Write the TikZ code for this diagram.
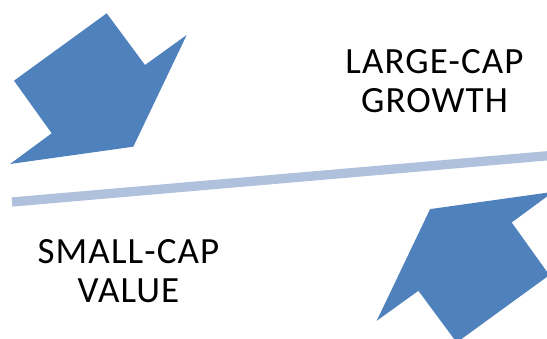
\documentclass[tikz,border=0pt]{standalone}
\usepackage{fontspec}
\newfontfamily\capfont{Carlito}[LetterSpace=3]
\definecolor{arrowblue}{HTML}{4F81BD}
\definecolor{lineblue}{HTML}{B0C1DD}
\tikzset{
  blockarrow/.style={fill=arrowblue},
  caplabel/.style={font=\capfont\fontsize{37}{39}\selectfont, align=center, inner sep=0pt}
}
\begin{document}
\begin{tikzpicture}[x=1pt,y=-1pt]
  \useasboundingbox (0,0) rectangle (547,339);
  \begin{scope}
  \clip (0,0) rectangle (547,339);
  % the two block arrows, the second one turned half round
  \foreach \turn in {0,180} {
    \fill[blockarrow, rotate around={\turn:(281.7,177.9)}]
      (106.7,13.3) -- (145,65) -- (186.7,35) -- (133.3,146.7)
      -- (10,164) -- (51.7,133.3) -- (14,80.7) -- cycle;
  }
  \draw[lineblue, line width=9.3pt] (12,202) -- (560,154.7);
  \end{scope}
  \node[caplabel] (large) at (434.5,81.5) {LARGE-CAP\\GROWTH};
  \node[caplabel] (small) at (128.5,271.5) {SMALL-CAP\\VALUE};
\end{tikzpicture}
\end{document}
